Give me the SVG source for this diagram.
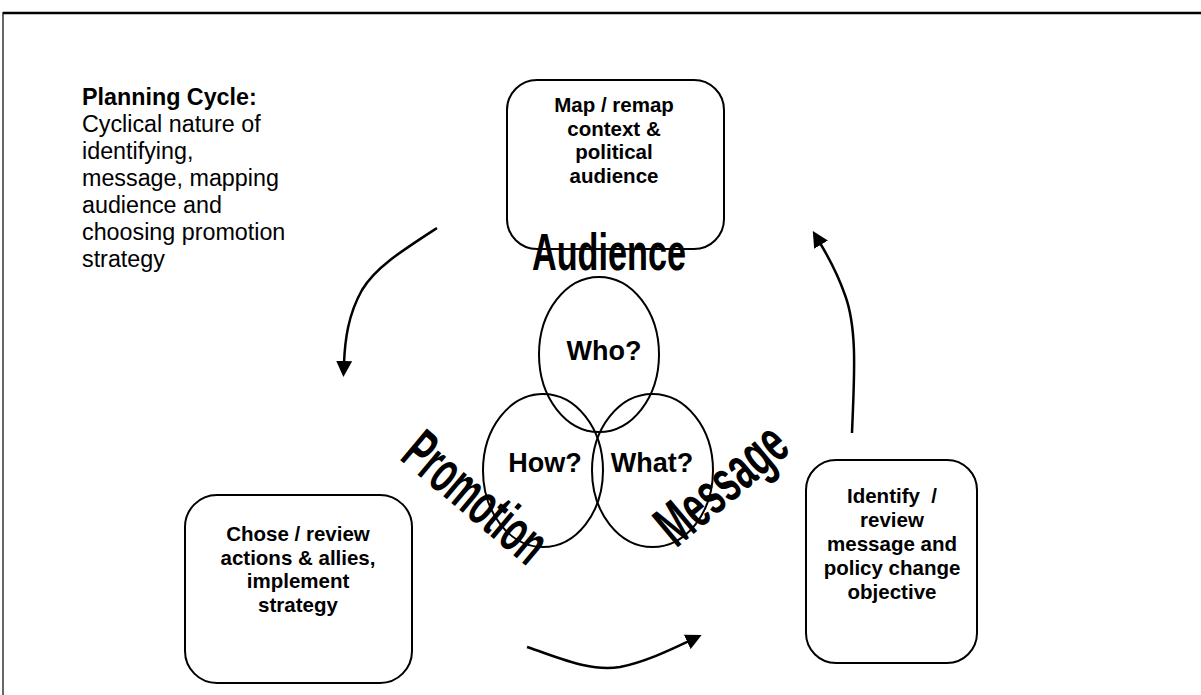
<svg xmlns="http://www.w3.org/2000/svg" width="1201" height="695" viewBox="0 0 1201 695">
<style>
.box{fill:#fff;stroke:#000;stroke-width:2}
.ell{fill:none;stroke:#000;stroke-width:2}
.bt{font-family:"Liberation Sans",Arial,sans-serif;font-weight:bold;font-size:20.5px;fill:#000;text-anchor:middle}
.lt{font-family:"Liberation Sans",Arial,sans-serif;font-size:23.3px;fill:#000}
.q{font-family:"Liberation Sans",Arial,sans-serif;font-weight:bold;font-size:27px;fill:#000;text-anchor:middle}
.big{font-family:"Liberation Sans",Arial,sans-serif;font-weight:bold;font-size:52px;fill:#000;text-anchor:middle}
.rot{font-family:"Liberation Sans",Arial,sans-serif;font-weight:bold;font-size:60px;fill:#000;text-anchor:middle}
.con{fill:none;stroke:#000;stroke-width:2.5}
</style>
<defs>
<marker id="ah" markerWidth="16" markerHeight="16" refX="2" refY="8" orient="auto" markerUnits="userSpaceOnUse">
<path d="M0,0 L16,8 L0,16 Z" fill="#000"/>
</marker>
</defs>
<rect width="1201" height="695" fill="#fff"/>
<g id="frame">
<line x1="3" y1="13" x2="1201" y2="13" stroke="#000" stroke-width="2.5"/>
<line x1="3" y1="12" x2="3" y2="695" stroke="#000" stroke-width="1.2"/>
</g>
<g id="title">
<text class="lt" x="82" y="105" font-weight="bold">Planning Cycle:</text>
<text class="lt" x="82" y="132">Cyclical nature of</text>
<text class="lt" x="82" y="159">identifying,</text>
<text class="lt" x="82" y="186">message, mapping</text>
<text class="lt" x="82" y="213">audience and</text>
<text class="lt" x="82" y="240">choosing promotion</text>
<text class="lt" x="82" y="267">strategy</text>
</g>
<g id="node-audience-box">
<rect class="box" x="507" y="80" width="217" height="169" rx="30"/>
<text class="bt" x="614" y="112">Map / remap</text>
<text class="bt" x="614" y="135.5">context &amp;</text>
<text class="bt" x="614" y="159">political</text>
<text class="bt" x="614" y="182.5">audience</text>
</g>
<g id="node-promotion-box">
<rect class="box" x="185" y="495" width="227" height="188" rx="32"/>
<text class="bt" x="298" y="541">Chose / review</text>
<text class="bt" x="298" y="564.5">actions &amp; allies,</text>
<text class="bt" x="298" y="588">implement</text>
<text class="bt" x="298" y="611.5">strategy</text>
</g>
<g id="node-message-box">
<rect class="box" x="806" y="460" width="171" height="203" rx="30"/>
<text class="bt" x="892" y="503" xml:space="preserve">Identify  /</text>
<text class="bt" x="892" y="527">review</text>
<text class="bt" x="892" y="551">message and</text>
<text class="bt" x="892" y="575">policy change</text>
<text class="bt" x="892" y="599">objective</text>
</g>
<g id="node-who">
<ellipse class="ell" cx="599" cy="354.5" rx="60" ry="77.5"/>
<text class="q" x="604" y="360">Who?</text>
</g>
<g id="node-how">
<ellipse class="ell" cx="543" cy="470.5" rx="60" ry="76.5"/>
<text class="q" x="545" y="472">How?</text>
</g>
<g id="node-what">
<ellipse class="ell" cx="652.5" cy="470.5" rx="60.5" ry="76.5"/>
<text class="q" x="652" y="472">What?</text>
</g>
<g id="labels">
<text class="big" x="609" y="270" textLength="154" lengthAdjust="spacingAndGlyphs">Audience</text>
<text class="rot" transform="translate(477,496) rotate(40)" x="0" y="22" textLength="168" lengthAdjust="spacingAndGlyphs">Promotion</text>
<text class="rot" transform="translate(720,483) rotate(-40)" x="0" y="22" textLength="152" lengthAdjust="spacingAndGlyphs">Message</text>
</g>
<g id="connectors">
<path class="con" d="M437,228 C400,252 375,268 362,290 C348,315 345,340 344,363" marker-end="url(#ah)"/>
<path class="con" d="M852,433 C854,380 858,330 845,295 C838,275 829,258 820,243" marker-end="url(#ah)"/>
<path class="con" d="M527,647 C560,658 590,672 620,667 C645,662 670,650 689,641" marker-end="url(#ah)"/>
</g>
</svg>
